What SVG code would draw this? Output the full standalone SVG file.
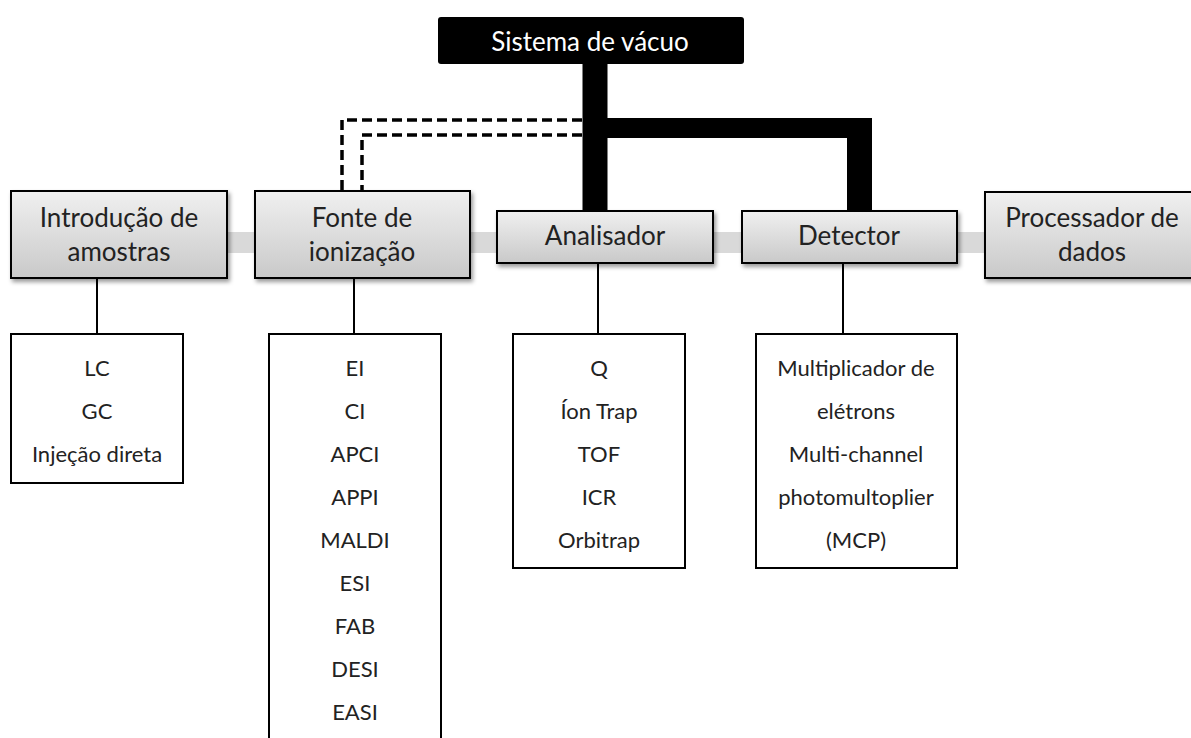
<svg xmlns="http://www.w3.org/2000/svg" width="1191" height="738" viewBox="0 0 1191 738">
<defs>
<linearGradient id="g" x1="0" y1="0" x2="0" y2="1">
<stop offset="0" stop-color="#f0f0f0"/>
<stop offset="1" stop-color="#c9c9c9"/>
</linearGradient>
<filter id="sh" x="-10%" y="-10%" width="130%" height="140%">
<feDropShadow dx="2" dy="3" stdDeviation="2" flood-color="#000" flood-opacity="0.4"/>
</filter>
</defs>
<style>
.box{fill:url(#g);stroke:#000;stroke-width:2;filter:url(#sh)}
.list{fill:#fff;stroke:#000;stroke-width:2}
.t{font-family:Lato,"Open Sans",sans-serif;font-size:26px;fill:#222;text-anchor:middle}
.s{font-family:Lato,"Open Sans",sans-serif;font-size:22px;fill:#222;text-anchor:middle}
.thin{stroke:#000;stroke-width:2;fill:none}
.dash{stroke:#000;stroke-width:3.5;fill:none;stroke-dasharray:10 5}
</style>
<rect width="1191" height="738" fill="#fff"/>
<g id="connectors">
<rect x="200" y="232" width="800" height="21" fill="#d9d9d9"/>
<rect x="582.5" y="60" width="25" height="152" fill="#000"/>
<polygon points="595,118 872,118 872,212 847,212 847,138 595,138" fill="#000"/>
<path class="dash" d="M582,120 H342 V191"/>
<path class="dash" d="M582,135 H362 V191"/>
<line class="thin" x1="97" y1="278" x2="97" y2="334"/>
<line class="thin" x1="354" y1="278" x2="354" y2="334"/>
<line class="thin" x1="598" y1="263" x2="598" y2="334"/>
<line class="thin" x1="843" y1="263" x2="843" y2="334"/>
</g>
<g id="vacuo">
<rect x="438" y="17" width="306" height="47" rx="3" fill="#000"/>
<text class="t" x="590" y="51" style="fill:#fff">Sistema de vácuo</text>
</g>
<g id="introducao">
<rect class="box" x="11" y="191" width="216" height="87"/>
<text class="t" x="119" y="227">Introdução de</text>
<text class="t" x="119" y="261">amostras</text>
</g>
<g id="fonte">
<rect class="box" x="255" y="191" width="215" height="87"/>
<text class="t" x="362" y="227">Fonte de</text>
<text class="t" x="362" y="261">ionização</text>
</g>
<g id="analisador">
<rect class="box" x="497" y="211" width="216" height="52"/>
<text class="t" x="605" y="245">Analisador</text>
</g>
<g id="detector">
<rect class="box" x="742" y="211" width="215" height="52"/>
<text class="t" x="849" y="245">Detector</text>
</g>
<g id="processador">
<rect class="box" x="985" y="192" width="216" height="86"/>
<text class="t" x="1092" y="227">Processador de</text>
<text class="t" x="1092" y="261">dados</text>
</g>
<g id="lista-introducao">
<rect class="list" x="11" y="334" width="172" height="149"/>
<text class="s" x="97" y="376">LC</text>
<text class="s" x="97" y="419">GC</text>
<text class="s" x="97" y="462">Injeção direta</text>
</g>
<g id="lista-fonte">
<rect class="list" x="269" y="334" width="172" height="420"/>
<text class="s" x="355" y="376">EI</text>
<text class="s" x="355" y="419">CI</text>
<text class="s" x="355" y="462">APCI</text>
<text class="s" x="355" y="505">APPI</text>
<text class="s" x="355" y="548">MALDI</text>
<text class="s" x="355" y="591">ESI</text>
<text class="s" x="355" y="634">FAB</text>
<text class="s" x="355" y="677">DESI</text>
<text class="s" x="355" y="720">EASI</text>
</g>
<g id="lista-analisador">
<rect class="list" x="513" y="334" width="172" height="234"/>
<text class="s" x="599" y="376">Q</text>
<text class="s" x="599" y="419">Íon Trap</text>
<text class="s" x="599" y="462">TOF</text>
<text class="s" x="599" y="505">ICR</text>
<text class="s" x="599" y="548">Orbitrap</text>
</g>
<g id="lista-detector">
<rect class="list" x="756" y="334" width="201" height="234"/>
<text class="s" x="856" y="376">Multiplicador de</text>
<text class="s" x="856" y="419">elétrons</text>
<text class="s" x="856" y="462">Multi-channel</text>
<text class="s" x="856" y="505">photomultoplier</text>
<text class="s" x="856" y="548">(MCP)</text>
</g>
</svg>
